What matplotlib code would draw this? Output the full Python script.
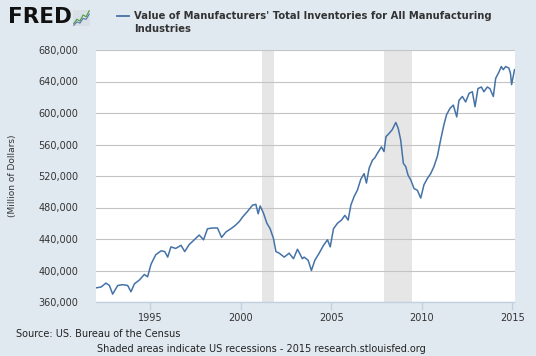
import numpy as np
import matplotlib.pyplot as plt
from matplotlib.lines import Line2D
from matplotlib.ticker import FuncFormatter

# Inventories (million $) as (fractional year, value in thousands)
years = [1992.00, 1992.28, 1992.55, 1992.74, 1992.92, 1993.20, 1993.47, 1993.75, 1993.93,
         1994.12, 1994.40, 1994.67, 1994.85, 1995.04, 1995.30, 1995.60, 1995.80, 1995.96,
         1996.14, 1996.40, 1996.70, 1996.90, 1997.15, 1997.43, 1997.70, 1997.94, 1998.16,
         1998.44, 1998.71, 1998.94, 1999.18, 1999.45, 1999.68, 1999.91, 2000.10, 2000.37,
         2000.65, 2000.83, 2000.96, 2001.07, 2001.25, 2001.44, 2001.62, 2001.80, 2001.94,
         2002.12, 2002.40, 2002.67, 2002.91, 2003.13, 2003.40, 2003.50, 2003.72, 2003.90,
         2004.09, 2004.33, 2004.57, 2004.79, 2004.94, 2005.12, 2005.34, 2005.56, 2005.75,
         2005.93, 2006.08, 2006.26, 2006.44, 2006.63, 2006.81, 2006.94, 2007.09, 2007.27,
         2007.40, 2007.55, 2007.77, 2007.91, 2008.02, 2008.19, 2008.37, 2008.56, 2008.69,
         2008.83, 2008.98, 2009.11, 2009.24, 2009.39, 2009.57, 2009.75, 2009.94, 2010.12,
         2010.31, 2010.49, 2010.67, 2010.86, 2011.04, 2011.23, 2011.37, 2011.56, 2011.74,
         2011.93, 2012.05, 2012.24, 2012.42, 2012.61, 2012.79, 2012.94, 2013.10, 2013.29,
         2013.43, 2013.62, 2013.76, 2013.95, 2014.08, 2014.26, 2014.39, 2014.50, 2014.63,
         2014.81, 2014.90, 2014.96, 2015.12]
values_k = [378, 379, 384, 381, 370, 381, 382, 381, 373,
            383, 388, 395, 392, 408, 420, 425, 424, 417,
            430, 428, 432, 424, 433, 439, 445, 439, 453,
            454, 454, 442, 449, 453, 457, 462, 468, 475,
            483, 484, 472, 482, 473, 460, 453, 441, 424,
            422, 417, 422, 415, 427, 415, 417, 413, 400,
            413, 422, 432, 439, 430, 453, 460, 464, 470,
            464, 483, 494, 502, 516, 523, 511, 530, 540,
            543, 549, 557, 551, 570, 574, 579, 588, 581,
            566, 536, 532, 521, 515, 504, 502, 492, 509,
            517, 523, 532, 545, 566, 586, 598, 606, 610,
            595, 616, 621, 614, 625, 627, 608, 631, 633,
            627, 633, 631, 621, 644, 652, 659, 655, 659,
            657, 650, 636, 655]

recessions = [(2001.17, 2001.84), (2007.92, 2009.46)]
x_ticks = [1995, 2000, 2005, 2010, 2015]
y_ticks = [360000, 400000, 440000, 480000, 520000, 560000, 600000, 640000, 680000]

bg = '#e1e9f0'
line_color = '#4572a7'

fig = plt.figure(figsize=(5.36, 3.56), dpi=100, facecolor=bg)
ax = fig.add_axes([96 / 536, 54 / 356, 418.5 / 536, 252 / 356])
ax.set_facecolor('white')

for start, end in recessions:
    ax.axvspan(start, end, color='#e6e6e6', lw=0, zorder=0)

ax.plot(years, np.array(values_k) * 1000, color=line_color, lw=1.1, zorder=3)

ax.set_xlim(1992.0, 2015.12)
ax.set_ylim(360000, 680000)
ax.set_xticks(x_ticks)
ax.set_yticks(y_ticks)
ax.yaxis.set_major_formatter(FuncFormatter(lambda v, p: f'{int(v):,}'))
ax.grid(axis='y', color='#c4c4c4', lw=0.8, zorder=1)
ax.grid(axis='x', visible=False)
for side in ['left', 'right', 'top']:
    ax.spines[side].set_visible(False)
ax.spines['bottom'].set_color('#c0d0e0')
ax.spines['bottom'].set_linewidth(1.0)
ax.tick_params(axis='x', colors='#c0d0e0', length=6, width=1, labelcolor='#333333',
               labelsize=7, pad=2)
ax.tick_params(axis='y', length=0, labelcolor='#333333', labelsize=7, pad=13)
ax.set_ylabel('(Million of Dollars)', fontsize=6.5, color='#333333')
ax.yaxis.set_label_coords(-0.189, 0.5)

# header: FRED logo and legend
fig.text(8 / 536, 1 - 17 / 356, 'FRED', fontsize=15.5, fontweight='heavy', color='#111111',
         va='center', ha='left')
icon = fig.add_axes([73 / 536, 1 - 26 / 356, 17 / 536, 16 / 356])
icon.set_facecolor('#d8e0e6')
icon.plot([0, 1, 2, 3, 4, 5], [1, 2, 1.6, 3, 2.6, 4], color='#4a9a3a', lw=0.8)
icon.plot([0, 1, 2, 3, 4, 5], [0.6, 1.4, 1.1, 2.2, 2, 3.2], color='#5577aa', lw=0.8)
icon.set_xticks([])
icon.set_yticks([])
for s in icon.spines.values():
    s.set_visible(False)

fig.add_artist(Line2D([117 / 536, 129 / 536], [1 - 16 / 356, 1 - 16 / 356],
                      color=line_color, lw=1.3))
fig.text(134 / 536, 1 - 16 / 356, "Value of Manufacturers' Total Inventories for All Manufacturing",
         fontsize=7.2, fontweight='bold', color='#333333', va='center', ha='left')
fig.text(134 / 536, 1 - 28.5 / 356, 'Industries',
         fontsize=7.2, fontweight='bold', color='#333333', va='center', ha='left')

# footer
fig.text(16 / 536, 1 - 334 / 356, 'Source: US. Bureau of the Census',
         fontsize=7, color='#222222', va='center', ha='left')
fig.text(261 / 536, 1 - 349 / 356,
         'Shaded areas indicate US recessions - 2015 research.stlouisfed.org',
         fontsize=7, color='#222222', va='center', ha='center')

fig.savefig('out.png', dpi=100, facecolor=bg)
